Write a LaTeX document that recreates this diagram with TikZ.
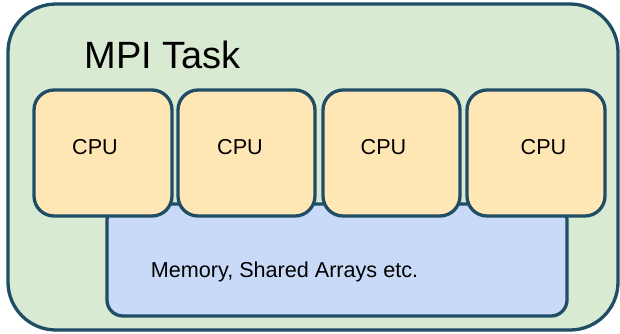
\documentclass[tikz,border=0pt]{standalone}
\usepackage{fontspec}
\setmainfont{Liberation Sans}
\definecolor{edge}{HTML}{1F4D66}
\definecolor{taskfill}{HTML}{D9EAD3}
\definecolor{cpufill}{HTML}{FFE7B5}
\definecolor{memfill}{HTML}{C9DAF8}
\begin{document}
\begin{tikzpicture}[x=1pt,y=-1pt,
  box/.style={draw=edge,line width=3.3pt},
  taskbox/.style={box,fill=taskfill,rounded corners=48pt},
  cpubox/.style={box,fill=cpufill,rounded corners=20pt},
  membox/.style={box,fill=memfill,rounded corners=16pt},
  lbl/.style={inner sep=0pt,font=\fontsize{21.6}{26}\selectfont}]
\useasboundingbox (0,0) rectangle (620,333);
\draw[taskbox] (8,4) rectangle (618,330);
\node[anchor=base,inner sep=0pt,font=\fontsize{38}{44}\selectfont] (title) at (162.5,68) {MPI Task};
\draw[membox] (107,204) rectangle (567,316);
\node[lbl,anchor=base] (memtxt) at (284.5,277) {Memory, Shared Arrays etc.};
\draw[cpubox] (34,90) rectangle (172,216);
\draw[cpubox] (178,90) rectangle (315,216);
\draw[cpubox] (323,90) rectangle (460,216);
\draw[cpubox] (467,90) rectangle (605,216);
\node[lbl,anchor=base] (cpu1) at (95,154) {CPU};
\node[lbl,anchor=base] (cpu2) at (240,154) {CPU};
\node[lbl,anchor=base] (cpu3) at (383.5,154) {CPU};
\node[lbl,anchor=base] (cpu4) at (543.5,154) {CPU};
\end{tikzpicture}
\end{document}
